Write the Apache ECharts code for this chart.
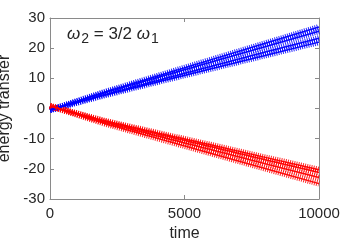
<!DOCTYPE html>
<html><head><meta charset="utf-8">
<script src="https://cdn.jsdelivr.net/npm/echarts@6/dist/echarts.min.js"></script>
<style>html,body{margin:0;padding:0;background:#fff}#c{width:353px;height:242px}</style>
</head><body><div id="c"></div>
<script>
var times = [0, 2000, 4000, 6000, 8000, 10000];
var blue1 = [-0.5, 5.4, 10.8, 16.2, 21.6, 27.0];
var blue2 = [-0.5, 5.1, 10.3, 15.4, 20.5, 25.6];
var blue3 = [-0.5, 4.6, 9.3, 14.0, 18.7, 23.3];
var blue4 = [-0.5, 4.3, 8.8, 13.2, 17.6, 22.0];
var red1 = [0.8, -4.0, -8.1, -12.1, -16.2, -20.3];
var red2 = [0.8, -4.2, -8.5, -12.7, -17.0, -21.2];
var red3 = [0.8, -4.5, -9.1, -13.7, -18.3, -22.9];
var red4 = [0.8, -4.9, -9.9, -14.9, -19.9, -24.9];
var xTicks = [0, 5000, 10000];
var yTicks = [-30, -20, -10, 0, 10, 20, 30];

function pairs(v){ return times.map(function(t,i){return [t, v[i]];}); }
function ser(v, color){
  return {type:'line', data:pairs(v), showSymbol:false, smooth:false, silent:true,
    lineStyle:{color:color, width:6, type:[1,1.2], opacity:0.85}, z:2};
}
function core(v, color){
  return {type:'line', data:pairs(v), showSymbol:false, silent:true,
    lineStyle:{color:color, width:1.5, opacity:0.95}, z:3};
}
var series = [];
[blue1,blue2,blue3,blue4].forEach(function(v){series.push(ser(v,'#0000ff'));series.push(core(v,'#0000ff'));});
[red1,red2,red3,red4].forEach(function(v){series.push(ser(v,'#ff0000'));series.push(core(v,'#ff0000'));});

var axisGray = '#8a8a8a';
var txt = '#262626';
var font = 'Liberation Sans';
var chart = echarts.init(document.getElementById('c'), null, {renderer:'canvas'});
chart.setOption({
  animation:false,
  backgroundColor:'#fff',
  grid:{left:50, right:34, top:18, bottom:43, containLabel:false, outerBoundsMode:'none'},
  xAxis:[{type:'value', min:0, max:10000, interval:5000,
    axisLine:{onZero:false, lineStyle:{color:axisGray}}, axisTick:{inside:true, length:4, lineStyle:{color:axisGray}},
    splitLine:{show:false},
    axisLabel:{color:txt, fontFamily:font, fontSize:15, margin:7, formatter:function(v){return String(v);}},
    name:'time', nameLocation:'middle', nameGap:24, nameTextStyle:{color:txt, fontFamily:font, fontSize:16}},
    {type:'value', position:'top', min:0, max:10000, interval:5000,
    axisLine:{show:true, onZero:false, lineStyle:{color:axisGray}}, axisTick:{inside:true, length:4, lineStyle:{color:axisGray}},
    axisLabel:{show:false}, splitLine:{show:false}}],
  yAxis:[{type:'value', min:-30, max:30, interval:10,
    axisLine:{show:true, onZero:false, lineStyle:{color:axisGray}}, axisTick:{show:true, inside:true, length:4, lineStyle:{color:axisGray}},
    splitLine:{show:false},
    axisLabel:{color:txt, fontFamily:font, fontSize:15, margin:5},
    name:'energy transfer', nameLocation:'middle', nameGap:32, nameTextStyle:{color:txt, fontFamily:font, fontSize:16}},
    {type:'value', position:'right', min:-30, max:30, interval:10,
    axisLine:{show:true, onZero:false, lineStyle:{color:axisGray}}, axisTick:{show:true, inside:true, length:4, lineStyle:{color:axisGray}},
    axisLabel:{show:false}, splitLine:{show:false}}],
  graphic:[{type:'text', left:67, top:26, z:10, style:{
    text:'{w|ω}{s|2}{n| = 3/2 }{w|ω}{s|1}',
    rich:{w:{fontFamily:font, fontSize:17, fill:txt, fontStyle:'italic'},
          s:{fontFamily:font, fontSize:14, fill:txt, padding:[10,0,0,1]},
          n:{fontFamily:font, fontSize:17, fill:txt}}
  }}],
  series:series
});
</script></body></html>
